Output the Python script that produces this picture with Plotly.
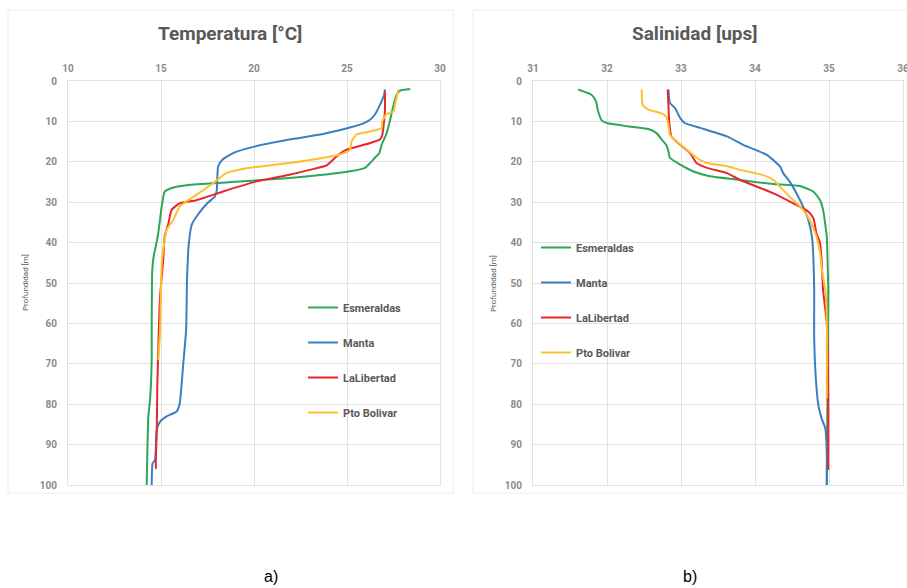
import plotly.graph_objects as go

W, H = 907, 588

stations = ["Esmeraldas", "Manta", "LaLibertad", "Pto Bolivar"]
colors = ["#2ea65a", "#3a7fc4", "#e8262b", "#fcc02e"]

# ---- Temperatura [°C] ----
temp_esm_depth = [2, 2.4, 3.4, 6, 10, 13.3, 15.8, 17.8, 19, 20.3, 21.5, 22.2, 23.2, 24.0, 24.9, 25.7, 26.6, 27.4, 31, 37.7, 41.8, 43, 46.8, 61.6, 69, 79, 83, 100]
temp_esm = [28.4, 27.85, 27.67, 27.5, 27.3, 27.1, 26.86, 26.74, 26.5, 26.24, 25.97, 25.34, 23.7, 21.9, 19.25, 16.56, 15.5, 15.2, 15.04, 14.85, 14.68, 14.62, 14.53, 14.5, 14.5, 14.41, 14.32, 14.23]

temp_man_depth = [2.1, 3.4, 5.9, 8.3, 9.6, 10.8, 11.8, 13.1, 14.5, 16.3, 17.8, 19.5, 21.2, 27, 28.6, 30.2, 33.6, 35.6, 40, 49, 61.6, 69.8, 80, 81.8, 83, 84.3, 86.4, 93.8, 94.6, 100]
temp_man = [27.04, 27.0, 26.77, 26.5, 26.24, 25.7, 24.9, 23.7, 21.9, 19.96, 18.9, 18.3, 18.07, 18.0, 17.9, 17.5, 16.9, 16.65, 16.5, 16.4, 16.35, 16.2, 16.0, 15.84, 15.3, 14.95, 14.77, 14.68, 14.55, 14.5]

temp_lib_depth = [2.6, 7.4, 13.3, 14.5, 15.6, 17, 18.6, 20.9, 22, 23.2, 24.9, 27.4, 29.5, 30.3, 31.9, 35.2, 38.5, 44.3, 53.4, 59, 75.7, 87, 93.8, 96]
temp_lib = [27.04, 27.04, 26.9, 26.77, 26.06, 24.98, 24.45, 23.9, 23.0, 21.9, 20.1, 18.3, 16.9, 16.0, 15.57, 15.4, 15.2, 15.12, 14.95, 14.9, 14.8, 14.77, 14.72, 14.73]

temp_bol_depth = [2.1, 5.9, 7.5, 8.3, 10, 11.6, 12.5, 13.3, 14.9, 17, 18.2, 19.3, 20.3, 21.6, 22.8, 25.3, 28.2, 31.1, 34.4, 36.9, 41.8, 45, 61.6, 69]
temp_bol = [27.76, 27.58, 27.5, 27.1, 26.9, 26.86, 26.24, 25.5, 25.25, 25.16, 24.6, 23.37, 21.9, 19.6, 18.5, 17.8, 16.9, 16.0, 15.66, 15.3, 15.12, 15.04, 14.95, 14.86]

# ---- Salinidad [ups] ----
sal_esm_depth = [2.1, 3.4, 5, 7.5, 9.8, 10.4, 11.2, 12, 12.9, 14.5, 15.8, 17.4, 19, 20.7, 22.4, 23.6, 24.4, 25.0, 25.5, 26, 27.4, 29.5, 31.9, 38.5, 44.3, 51.7, 100]
sal_esm = [31.61, 31.79, 31.85, 31.88, 31.93, 32.0, 32.27, 32.58, 32.67, 32.74, 32.8, 32.83, 32.85, 32.99, 33.17, 33.39, 33.75, 34.0, 34.25, 34.61, 34.79, 34.88, 34.92, 34.97, 34.98, 34.99, 34.97]

sal_man_depth = [2.1, 5.4, 6.7, 9.2, 10.4, 11.6, 13.7, 15.8, 18.3, 21.2, 22.8, 24.9, 27.8, 31.1, 34.4, 38.5, 44.3, 51.7, 64, 75.7, 80.6, 83.5, 86, 92, 100]
sal_man = [32.83, 32.85, 32.92, 32.99, 33.05, 33.26, 33.62, 33.84, 34.16, 34.34, 34.38, 34.47, 34.56, 34.65, 34.72, 34.77, 34.79, 34.8, 34.8, 34.83, 34.86, 34.9, 34.95, 34.97, 34.97]

sal_lib_depth = [2.1, 5.9, 10, 13.7, 15.8, 17.8, 20.3, 21.5, 22.8, 24.5, 27.8, 30.3, 32.3, 34, 37.7, 40.2, 44.3, 51.7, 60, 78.5, 96.3]
sal_lib = [32.82, 32.83, 32.84, 32.87, 32.99, 33.12, 33.21, 33.35, 33.62, 33.8, 34.25, 34.52, 34.72, 34.79, 34.83, 34.88, 34.9, 34.92, 34.97, 34.99, 34.99]

sal_bol_depth = [2.1, 5.9, 7.1, 7.9, 8.8, 10.8, 13.3, 14.9, 17, 19, 20.3, 21.1, 22.0, 23.3, 24.5, 27, 29.5, 31.9, 34.4, 38.5, 42.6, 47.6, 51.7, 59, 78.5]
sal_bol = [32.47, 32.48, 32.56, 32.72, 32.8, 32.83, 32.85, 32.94, 33.08, 33.21, 33.35, 33.62, 33.8, 34.11, 34.25, 34.38, 34.52, 34.65, 34.74, 34.83, 34.88, 34.91, 34.95, 34.97, 34.97]

temp_x = [temp_esm, temp_man, temp_lib, temp_bol]
temp_y = [temp_esm_depth, temp_man_depth, temp_lib_depth, temp_bol_depth]
sal_x = [sal_esm, sal_man, sal_lib, sal_bol]
sal_y = [sal_esm_depth, sal_man_depth, sal_lib_depth, sal_bol_depth]

temp_ticks = [10, 15, 20, 25, 30]
sal_ticks = [31, 32, 33, 34, 35, 36]
depth_ticks = [0, 10, 20, 30, 40, 50, 60, 70, 80, 90, 100]

fig = go.Figure()
for i, name in enumerate(stations):
    fig.add_trace(go.Scatter(x=temp_x[i], y=temp_y[i], mode="lines", name=name,
                             line=dict(color=colors[i], width=2, shape="spline", smoothing=0.5),
                             xaxis="x", yaxis="y", legend="legend", legendgroup="t" + str(i)))
for i, name in enumerate(stations):
    fig.add_trace(go.Scatter(x=sal_x[i], y=sal_y[i], mode="lines", name=name,
                             line=dict(color=colors[i], width=2, shape="spline", smoothing=0.5),
                             xaxis="x2", yaxis="y2", legend="legend2", legendgroup="s" + str(i)))

def px(v):
    return v / W

def py(v):
    return 1 - v / H

grid = "#e1e1e1"
tickfont = dict(family="Roboto", size=10, color="#8a8a8a", weight="bold")
ydom = [py(485), py(81)]

common_x = dict(side="top", showgrid=True, gridcolor=grid, gridwidth=1, showline=True,
                linecolor=grid, mirror=True, ticks="", tickfont=tickfont, zeroline=False,
                ticklabelstandoff=4, automargin=False, ticklabeloverflow="allow")
common_y = dict(range=[100, 0], tickvals=depth_ticks, showgrid=True, gridcolor=grid, gridwidth=1,
                showline=True, linecolor=grid, mirror=True, ticks="", tickfont=tickfont,
                zeroline=False, ticklabelstandoff=8, automargin=False)

legfont = dict(family="Roboto", size=11, color="#595959", weight="bold")

fig.update_layout(
    width=W, height=H,
    margin=dict(l=0, r=0, t=0, b=0, autoexpand=False),
    paper_bgcolor="white", plot_bgcolor="white",
    xaxis=dict(domain=[px(68), px(440)], range=[10, 30], tickvals=temp_ticks, anchor="y", **common_x),
    yaxis=dict(domain=ydom, anchor="x", **common_y),
    xaxis2=dict(domain=[px(533), px(903)], range=[31, 36], tickvals=sal_ticks, anchor="y2", **common_x),
    yaxis2=dict(domain=ydom, anchor="x2", **common_y),
    legend=dict(x=px(303), y=py(293), xanchor="left", yanchor="top", font=legfont,
                bgcolor="rgba(0,0,0,0)", tracegroupgap=16, traceorder="grouped"),
    legend2=dict(x=px(536), y=py(233), xanchor="left", yanchor="top", font=legfont,
                 bgcolor="rgba(0,0,0,0)", tracegroupgap=16, traceorder="grouped"),
    showlegend=True,
)

fig.add_shape(type="rect", xref="paper", yref="paper", x0=px(8), x1=px(453), y0=py(493), y1=py(10),
              line=dict(color="#ececec", width=1), layer="below")
fig.add_shape(type="rect", xref="paper", yref="paper", x0=px(473), x1=px(920), y0=py(493), y1=py(10),
              line=dict(color="#ececec", width=1), layer="below")

titlefont = dict(family="Roboto", size=19, color="#595959", weight="bold")
fig.add_annotation(text="Temperatura [°C]", x=px(230), y=py(33), xref="paper", yref="paper",
                   xanchor="center", yanchor="middle", showarrow=False, font=titlefont)
fig.add_annotation(text="Salinidad [ups]", x=px(695), y=py(33), xref="paper", yref="paper",
                   xanchor="center", yanchor="middle", showarrow=False, font=titlefont)

ytfont = dict(family="Roboto", size=8, color="#595959")
fig.add_annotation(text="Profundidad [m]", x=px(25), y=py(283), xref="paper", yref="paper",
                   xanchor="center", yanchor="middle", showarrow=False, textangle=-90, font=ytfont)
fig.add_annotation(text="Profundidad [m]", x=px(493), y=py(283), xref="paper", yref="paper",
                   xanchor="center", yanchor="middle", showarrow=False, textangle=-90, font=ytfont)

labfont = dict(family="Liberation Sans Narrow, Liberation Sans", size=16, color="#000000")
fig.add_annotation(text="a)", x=px(271), y=py(576), xref="paper", yref="paper",
                   xanchor="center", yanchor="middle", showarrow=False, font=labfont)
fig.add_annotation(text="b)", x=px(690), y=py(576), xref="paper", yref="paper",
                   xanchor="center", yanchor="middle", showarrow=False, font=labfont)

fig.write_html("out.html", config={"displayModeBar": False},
               post_script="document.body.style.margin='0';document.body.style.overflow='hidden';")
